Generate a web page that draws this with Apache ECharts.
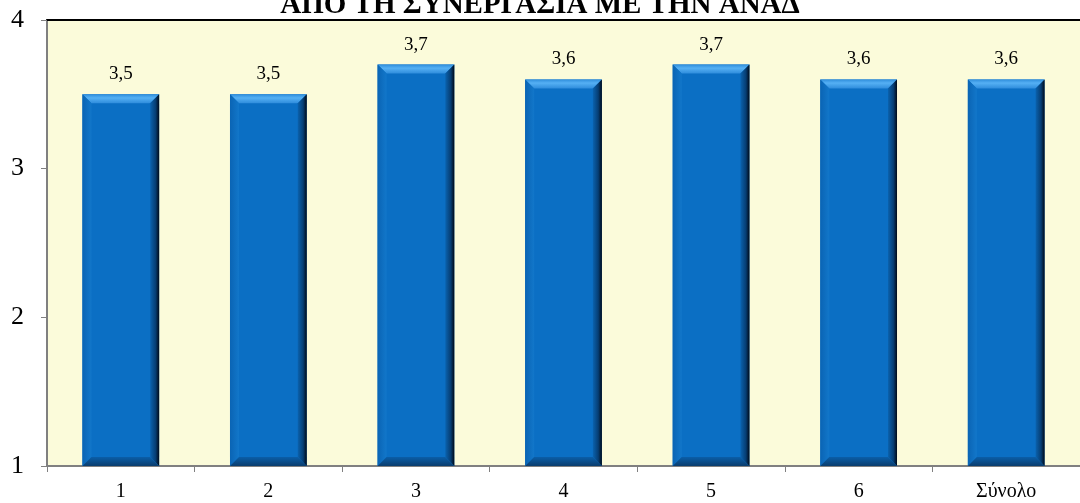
<!DOCTYPE html>
<html><head><meta charset="utf-8">
<script src="https://cdn.jsdelivr.net/npm/echarts@6/dist/echarts.min.js"></script>
<style>html,body{margin:0;padding:0;background:#fff}#c{width:1080px;height:503px}</style>
</head><body><div id="c"></div>
<script>
const categories = ['1','2','3','4','5','6','Σύνολο'];
const values = [3.5,3.5,3.7,3.6,3.7,3.6,3.6];
const valueLabels = ['3,5','3,5','3,7','3,6','3,7','3,6','3,6'];
const titleText = 'ΑΠΟ ΤΗ ΣΥΝΕΡΓΑΣΙΑ ΜΕ ΤΗΝ ΑΝΑΔ';

const chart = echarts.init(document.getElementById('c'), null, {renderer:'canvas'});
const FONT = '"Liberation Serif", "Times New Roman", serif';

function renderBar(params, api) {
  const idx = api.value(0);
  const v = api.value(1);
  const top = api.coord([idx, v]);
  const bot = api.coord([idx, 1]);
  const bw = api.size([1, 0])[0] * 0.52;
  const x0 = top[0] - bw / 2, x1 = top[0] + bw / 2;
  const y0 = top[1], y1 = bot[1];
  const b = 9;
  return {
    type: 'group',
    children: [
      {type:'rect', shape:{x:x0,y:y0,width:bw,height:y1-y0}, style:{fill:'#0B6FC4'}},
      {type:'polygon', shape:{points:[[x0,y0],[x1,y0],[x1-b,y0+b],[x0+b,y0+b]]},
        style:{fill:new echarts.graphic.LinearGradient(0,0,0,1,[{offset:0,color:'#2F8EDC'},{offset:0.4,color:'#55B0F4'},{offset:1,color:'#2E8CDC'}])}},
      {type:'polygon', shape:{points:[[x0,y0],[x0+b,y0+b],[x0+b,y1-b],[x0,y1]]},
        style:{fill:new echarts.graphic.LinearGradient(0,0,1,0,[{offset:0,color:'#0A64B4'},{offset:1,color:'#1277CA'}])}},
      {type:'polygon', shape:{points:[[x1,y0],[x1,y1],[x1-b,y1-b],[x1-b,y0+b]]},
        style:{fill:new echarts.graphic.LinearGradient(0,0,1,0,[{offset:0,color:'#0A62AE'},{offset:0.6,color:'#063E74'},{offset:1,color:'#000A18'}])}},
      {type:'polygon', shape:{points:[[x0,y1],[x1,y1],[x1-b,y1-b],[x0+b,y1-b]]},
        style:{fill:new echarts.graphic.LinearGradient(0,0,0,1,[{offset:0,color:'#0A5EA8'},{offset:1,color:'#0A3D6E'}])}},
      {type:'text', x: top[0], y: y0 - 20, style:{text: valueLabels[idx], font:'19px ' + FONT, fill:'#000', align:'center', verticalAlign:'middle'}}
    ]
  };
}

chart.setOption({
  animation: false,
  backgroundColor: '#fff',
  graphic: [{
    type:'text', left:'center', top:-9,
    style:{text:titleText, font:'bold 29px ' + FONT, fill:'#000'}
  }],
  grid: {left:47, right:0, top:20, bottom:37, show:true, backgroundColor:'#FBFBDA', borderWidth:0},
  xAxis: [{
    type:'category', data:categories,
    axisLine:{lineStyle:{color:'#808080', width:2}},
    axisTick:{show:true, length:6, lineStyle:{color:'#808080'}},
    axisLabel:{color:'#000', fontFamily:FONT, fontSize:20, margin:16}
  },{
    type:'category', data:categories, position:'top',
    axisLine:{show:true, lineStyle:{color:'#000', width:2}},
    axisTick:{show:false}, axisLabel:{show:false}
  }],
  yAxis: {
    type:'value', min:1, max:4, interval:1,
    axisLine:{show:true, lineStyle:{color:'#808080', width:2}},
    axisTick:{show:true, length:6, lineStyle:{color:'#808080'}},
    splitLine:{show:false},
    axisLabel:{color:'#000', fontFamily:FONT, fontSize:26, margin:23}
  },
  series: [{
    type:'custom', renderItem: renderBar,
    data: values.map((v,i)=>[i,v]),
    encode:{x:0, y:1}
  }]
});
</script></body></html>
